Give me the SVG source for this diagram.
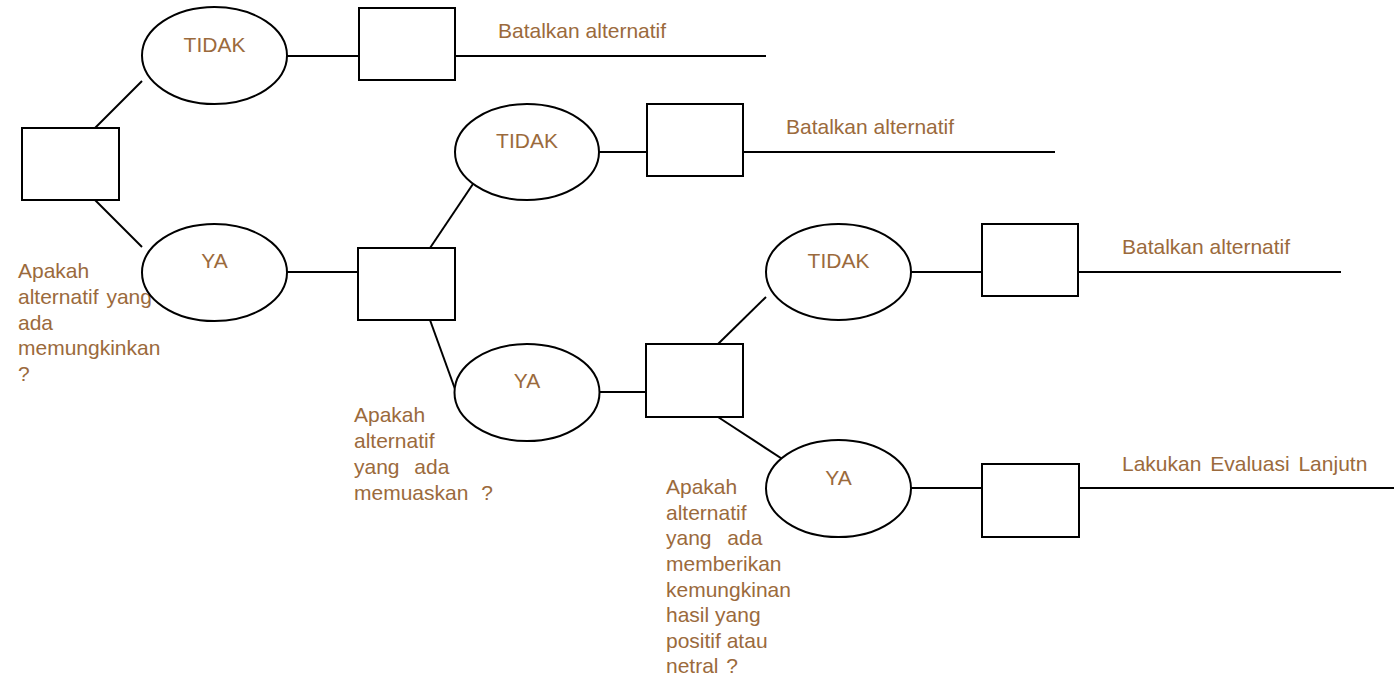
<svg xmlns="http://www.w3.org/2000/svg" width="1394" height="677" viewBox="0 0 1394 677">
  <style>
    .box { fill: #ffffff; stroke: #000000; stroke-width: 2; }
    .oval { fill: #ffffff; stroke: #000000; stroke-width: 2; }
    .wire { fill: none; stroke: #000000; stroke-width: 2; }
    .lbl { font-family: "Liberation Sans", Arial, sans-serif; font-size: 21px; fill: #9b6a3c; }
    .mid { text-anchor: middle; }
  </style>
  <rect width="1394" height="677" fill="#ffffff"/>

  <!-- connectors -->
  <g id="connectors">
    <line class="wire" x1="95" y1="128" x2="142" y2="81"/>
    <line class="wire" x1="95" y1="200" x2="142" y2="247"/>
    <line class="wire" x1="287" y1="56" x2="359" y2="56"/>
    <line class="wire" x1="455" y1="56" x2="766" y2="56"/>
    <line class="wire" x1="287" y1="272" x2="358" y2="272"/>
    <line class="wire" x1="430" y1="248" x2="477" y2="178"/>
    <line class="wire" x1="430" y1="320" x2="455" y2="389"/>
    <line class="wire" x1="599" y1="152" x2="647" y2="152"/>
    <line class="wire" x1="743" y1="152" x2="1055" y2="152"/>
    <line class="wire" x1="599" y1="392" x2="646" y2="392"/>
    <line class="wire" x1="718" y1="344" x2="766" y2="297"/>
    <line class="wire" x1="718" y1="417" x2="790" y2="464"/>
    <line class="wire" x1="911" y1="272" x2="982" y2="272"/>
    <line class="wire" x1="1078" y1="272" x2="1341" y2="272"/>
    <line class="wire" x1="911" y1="488" x2="982" y2="488"/>
    <line class="wire" x1="1079" y1="488" x2="1394" y2="488"/>
  </g>

  <!-- decision 1 -->
  <g id="decision1">
    <rect class="box" x="22" y="128" width="97" height="72"/>
    <text class="lbl" x="18" y="278">Apakah</text>
    <text class="lbl" x="18" y="304" word-spacing="2">alternatif yang</text>
    <text class="lbl" x="18" y="330">ada</text>
    <text class="lbl" x="18" y="355">memungkinkan</text>
    <text class="lbl" x="18" y="381">?</text>
  </g>
  <g id="tidak1">
    <ellipse class="oval" cx="214.5" cy="55.5" rx="72.5" ry="48.5"/>
    <text class="lbl mid" x="214.5" y="52">TIDAK</text>
  </g>
  <g id="ya1">
    <ellipse class="oval" cx="214.5" cy="272.5" rx="72.5" ry="48.5"/>
    <text class="lbl mid" x="214.5" y="268">YA</text>
  </g>
  <g id="end1">
    <rect class="box" x="359" y="8" width="96" height="72"/>
    <text class="lbl" x="498" y="38">Batalkan alternatif</text>
  </g>

  <!-- decision 2 -->
  <g id="decision2">
    <rect class="box" x="358" y="248" width="97" height="72"/>
    <text class="lbl" x="354" y="422">Apakah</text>
    <text class="lbl" x="354" y="448">alternatif</text>
    <text class="lbl" x="354" y="474" word-spacing="9">yang ada</text>
    <text class="lbl" x="354" y="500" word-spacing="7">memuaskan ?</text>
  </g>
  <g id="tidak2">
    <ellipse class="oval" cx="527" cy="152" rx="72" ry="48"/>
    <text class="lbl mid" x="527" y="148">TIDAK</text>
  </g>
  <g id="ya2">
    <ellipse class="oval" cx="527" cy="392.5" rx="72.5" ry="48.5"/>
    <text class="lbl mid" x="527" y="388">YA</text>
  </g>
  <g id="end2">
    <rect class="box" x="647" y="104" width="96" height="72"/>
    <text class="lbl" x="786" y="134">Batalkan alternatif</text>
  </g>

  <!-- decision 3 -->
  <g id="decision3">
    <rect class="box" x="646" y="344" width="97" height="73"/>
    <text class="lbl" x="666" y="494">Apakah</text>
    <text class="lbl" x="666" y="520">alternatif</text>
    <text class="lbl" x="666" y="545" word-spacing="10">yang ada</text>
    <text class="lbl" x="666" y="571">memberikan</text>
    <text class="lbl" x="666" y="597">kemungkinan</text>
    <text class="lbl" x="666" y="622">hasil yang</text>
    <text class="lbl" x="666" y="648">positif atau</text>
    <text class="lbl" x="666" y="673" word-spacing="2">netral ?</text>
  </g>
  <g id="tidak3">
    <ellipse class="oval" cx="838.5" cy="272" rx="72.5" ry="48"/>
    <text class="lbl mid" x="838.5" y="268">TIDAK</text>
  </g>
  <g id="ya3">
    <ellipse class="oval" cx="838.5" cy="488.5" rx="72.5" ry="48.5"/>
    <text class="lbl mid" x="838.5" y="485">YA</text>
  </g>
  <g id="end3">
    <rect class="box" x="982" y="224" width="96" height="72"/>
    <text class="lbl" x="1122" y="254">Batalkan alternatif</text>
  </g>
  <g id="end4">
    <rect class="box" x="982" y="464" width="97" height="73"/>
    <text class="lbl" x="1122" y="471" word-spacing="3">Lakukan Evaluasi Lanjutn</text>
  </g>
</svg>
